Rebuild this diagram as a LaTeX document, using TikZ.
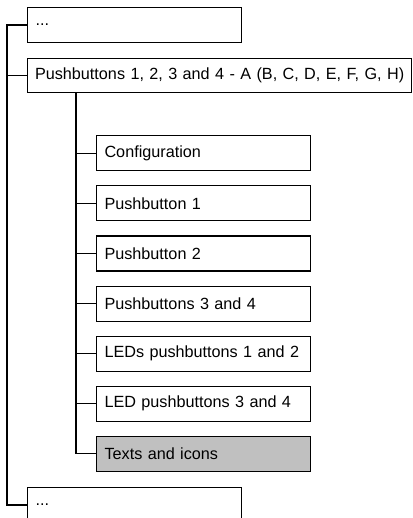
\documentclass[tikz,border=0pt]{standalone}
\usepackage{fontspec}
\setmainfont{Liberation Sans}
\usepackage{xcolor}
\definecolor{Ink}{HTML}{000000}
\definecolor{Shade}{HTML}{C0C0C0}
\usetikzlibrary{positioning,calc}
\tikzset{
  entry/.style={draw=Ink,line width=1.1pt,fill=white,minimum height=35pt,
    text width=198pt,inner xsep=8pt,align=left,anchor=north west,
    font=\fontsize{16.2}{19}\selectfont},
  wide/.style={entry,text width=369pt,inner xsep=7.5pt,minimum height=34pt},
  active/.style={entry,fill=Shade},
  link/.style={line width=1.2pt,draw=Ink}
}
\begin{document}
\begin{tikzpicture}[node distance=14pt and 0pt]
  \useasboundingbox (0,0) rectangle (412pt,-518pt);
  \node[entry] (dotstop) at (27pt,-7pt) {...};
  \node[wide, below=15pt of dotstop.south west, anchor=north west] (group) {\mbox{Pushbuttons 1, 2, 3 and 4 - A (B, C, D, E, F, G, H)}};
  \node[entry, below=42pt of group.south west, xshift=69pt, anchor=north west] (config) {Configuration};
  \node[entry, below=of config.south west, anchor=north west] (pbone) {Pushbutton 1};
  \node[entry, below=of pbone.south west, anchor=north west] (pbtwo) {Pushbutton 2};
  \node[entry, below=of pbtwo.south west, anchor=north west] (pbthreefour) {Pushbuttons 3 and 4};
  \node[entry, below=of pbthreefour.south west, anchor=north west] (ledsonetwo) {LEDs pushbuttons 1 and 2};
  \node[entry, below=of ledsonetwo.south west, anchor=north west] (ledthreefour) {LED pushbuttons 3 and 4};
  \node[active, below=of ledthreefour.south west, anchor=north west] (texticons) {Texts and icons};
  \node[entry, below=15pt of texticons.south west, xshift=-69pt, anchor=north west] (dotsbottom) {...};
  \coordinate (trunk) at ($(dotstop.west)+(-20pt,0)$);
  \coordinate (branch) at ($(group.south west)+(49pt,0)$);
  \draw[link] (dotstop.west) -- (trunk) |- (dotsbottom.west);
  \draw[link] (trunk) |- (group.west);
  \draw[link] (branch) |- (texticons.west);
  \foreach \child in {config,pbone,pbtwo,pbthreefour,ledsonetwo,ledthreefour}
    \draw[link] (branch) |- (\child.west);
\end{tikzpicture}
\end{document}
